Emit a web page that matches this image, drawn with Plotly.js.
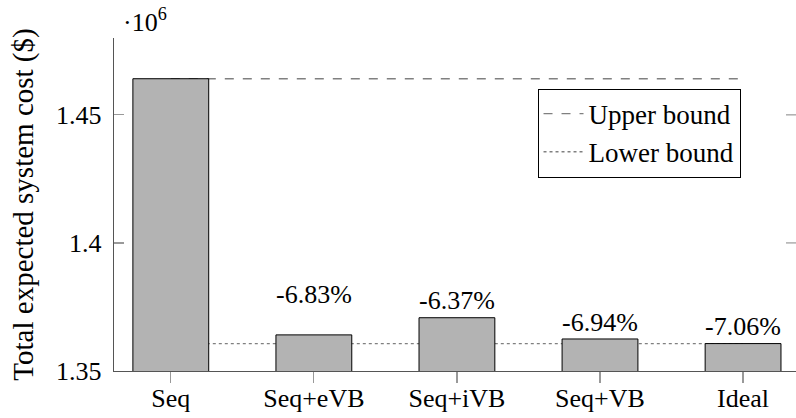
<!DOCTYPE html>
<html>
<head>
<meta charset="utf-8">
<script src="https://cdn.plot.ly/plotly-3.0.1.min.js"></script>
<style>html,body{margin:0;padding:0;background:#fff;overflow:hidden;}#chart{width:796px;height:418px;}</style>
</head>
<body>
<div id="chart"></div>
<script>
// Values in units of 10^6 $
const categories = ['Seq', 'Seq+eVB', 'Seq+iVB', 'Seq+VB', 'Ideal'];
const costs = [1.4641, 1.3641, 1.3708, 1.3625, 1.3607];
const pctLabels = ['', '-6.83%', '-6.37%', '-6.94%', '-7.06%'];
const boundX = ['Seq', 'Ideal'];
const upperBound = [1.4641, 1.4641];
const lowerBound = [1.3607, 1.3607];
const yTicks = [1.35, 1.4, 1.45];
const yRange = [1.35, 1.48];

// style only
const labelShift = [0, 40, 17, 16, 17];
const FONT = 'Liberation Serif, Times New Roman, serif';
const F = (s) => ({family: FONT, size: s, color: '#000'});

const traces = [
  {type: 'bar', x: categories, y: costs, xaxis: 'x', yaxis: 'y2', width: 0.53, showlegend: false,
   marker: {color: '#b3b3b3', line: {color: '#000', width: 1}}, hoverinfo: 'skip'},
  {type: 'scatter', mode: 'lines', x: boundX, y: upperBound, name: 'Upper bound',
   line: {color: '#808080', dash: 'dash', width: 1.4}, xaxis: 'x', yaxis: 'y', hoverinfo: 'skip'},
  {type: 'scatter', mode: 'lines', x: boundX, y: lowerBound, name: 'Lower bound',
   line: {color: '#808080', dash: 'dot', width: 1.4}, xaxis: 'x', yaxis: 'y', hoverinfo: 'skip'}
];

const annotations = [];
categories.forEach((c, i) => {
  if (pctLabels[i]) annotations.push({
    x: c, y: costs[i], xref: 'x', yref: 'y', text: pctLabels[i], showarrow: false,
    yanchor: 'middle', yshift: labelShift[i], font: F(26)
  });
});
annotations.push({
  xref: 'paper', yref: 'paper', x: 0.01, y: 1.052, xanchor: 'left', yanchor: 'middle',
  text: '·10<sup>6</sup>', showarrow: false, font: F(26)
});

const shapes = yTicks.slice(1).map(v => ({
  type: 'line', xref: 'paper', yref: 'y', x0: 1 - 10 / 682, x1: 1, y0: v, y1: v,
  line: {color: '#999', width: 1.2}
}));

const layout = {
  width: 796, height: 418,
  margin: {l: 114, r: 0, t: 38, b: 47},
  paper_bgcolor: '#fff', plot_bgcolor: '#fff',
  font: F(26),
  xaxis: {type: 'category', categoryorder: 'array', categoryarray: categories,
    range: [-0.397, 4.37], showgrid: false, zeroline: false,
    showline: true, linecolor: '#555', linewidth: 1.2, ticks: 'outside', ticklen: 11,
    tickcolor: '#999', tickwidth: 1.2, tickfont: F(26), ticklabelstandoff: -7},
  yaxis: {range: yRange, tickvals: yTicks, showgrid: false, zeroline: false, showline: true,
    linecolor: '#555', linewidth: 1.2, ticks: 'inside', ticklen: 10, tickcolor: '#999', tickwidth: 1.2,
    tickfont: F(26), ticklabelstandoff: 6,
    title: {text: 'Total expected system cost ($)', font: F(29), standoff: 14}},
  yaxis2: {range: yRange, overlaying: 'y', visible: false},
  legend: {x: 0.621, y: 0.848, xanchor: 'left', yanchor: 'top', bgcolor: '#fff',
    bordercolor: '#000', borderwidth: 1, font: F(27), itemwidth: 40},
  annotations: annotations,
  shapes: shapes
};

Plotly.newPlot('chart', traces, layout, {staticPlot: true, displayModeBar: false});
</script>
</body>
</html>
